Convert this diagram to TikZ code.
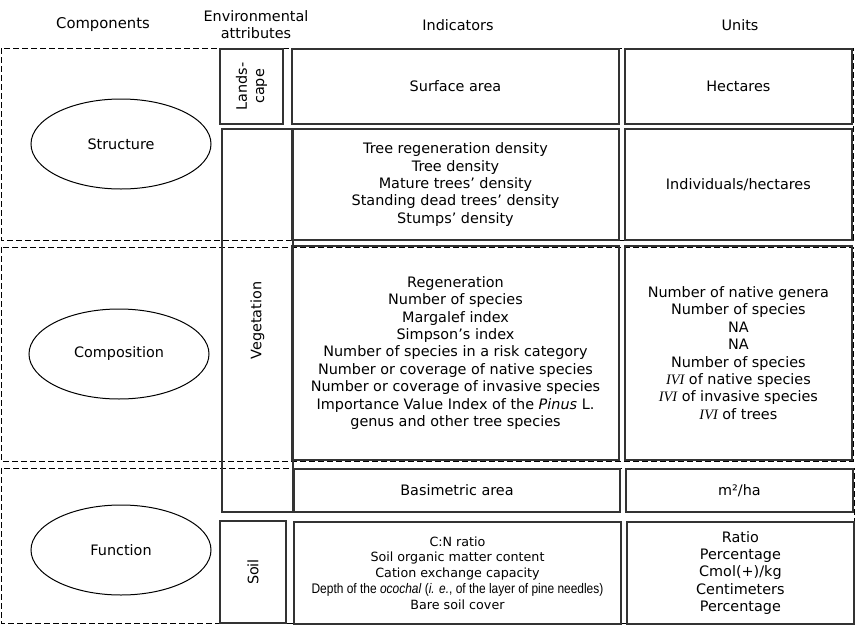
\documentclass[tikz,border=0pt]{standalone}
\usepackage{fontspec}
\setmainfont{DejaVu Sans}
\newfontfamily\narrowfont[FakeStretch=0.86]{Liberation Sans}
\newfontfamily\ivifont{Liberation Serif}
\usepackage{tikz}
\usetikzlibrary{positioning}
\usepgflibrary{shapes.geometric}
\newcommand{\ivi}{{\ivifont\itshape IVI}}

\begin{document}
\begin{tikzpicture}[x=1pt, y=-1pt,
      comp/.style ={draw, ellipse, line width=1pt, minimum width=180pt, minimum height=90pt},
      block/.style ={rectangle, draw=black!80, line width=1.4pt, align=center, inner sep=0pt},
      attr/.style ={block, rotate=90},
      band/.style ={draw, line width=0.9pt, dash pattern=on 6pt off 3pt},
      head/.style ={align=center},
      node distance=4.5pt,
      font=\fontsize{14.4}{17.4}\selectfont
    ]
    \useasboundingbox (0,0) rectangle (855,627);

    % headings
    \node [head, font=\fontsize{14.8}{17.4}\selectfont] (hcomp) at (103,25) {Components} ;
    \node [head, font=\fontsize{14.4}{17}\selectfont] (hattr) at (256,25) {Environmental\\attributes} ;
    \node [head] (hind) at (458,25) {Indicators} ;
    \node [head] (hunit) at (740,25) {Units} ;

    % dashed bands
    \draw [band] (1,48) rectangle (853,240) ;
    \draw [band] (1,247) rectangle (853,461) ;
    \draw [band] (1,468) rectangle (854,623) ;

    % components
    \node [comp] (struct) at (121,144) {Structure} ;
    \node [comp] (compo) at (119,354) {Composition} ;
    \node [comp] (func) at (121,550) {Function} ;

    % environmental attributes
    \node [attr, minimum width=75pt, minimum height=63pt] (land) at (251.5,86.5) {Lands-\\cape} ;
    \node [attr, minimum width=383pt, minimum height=71pt] (veg) at (257.5,320.5) {Vegetation} ;
    \node [attr, minimum width=102pt, minimum height=66pt] (soil) at (253,572) {Soil} ;

    % indicators
    \node [block, minimum width=327pt, minimum height=75pt] (surf) at (455.5,86.5) {Surface area} ;
    \node [block, minimum width=327pt, minimum height=111pt] (dens) at (455.5,184.5)
      {Tree regeneration density\\Tree density\\Mature trees' density\\Standing dead trees' density\\Stumps' density} ;
    \node [block, minimum width=327pt, minimum height=214pt] (spec) at (455.5,353)
      {Regeneration\\Number of species\\Margalef index\\Simpson's index\\Number of species in a risk category\\
       Number or coverage of native species\\Number or coverage of invasive species\\
       Importance Value Index of the \textit{Pinus} L.\\genus and other tree species} ;
    \node [block, minimum width=326pt, minimum height=43pt] (basi) at (457,490.5) {Basimetric area} ;
    \node [block, minimum width=327pt, minimum height=102pt, font=\fontsize{12.7}{15.8}\selectfont] (soilind) at (457.5,573)
      {C:N ratio\\Soil organic matter content\\Cation exchange capacity\\
       {\narrowfont\fontsize{13.9}{15.8}\selectfont Depth of the \textit{ocochal} (\textit{i. e.}, of the layer of pine needles)}\\Bare soil cover} ;

    % units
    \node [block, minimum width=227pt, minimum height=75pt, right=of surf] (ha) {Hectares} ;
    \node [block, minimum width=227pt, minimum height=111pt, right=of dens] (indha) {Individuals/hectares} ;
    \node [block, minimum width=227pt, minimum height=214pt, right=of spec] (specu)
      {Number of native genera\\Number of species\\NA\\NA\\Number of species\\
       \ivi{} of native species\\\ivi{} of invasive species\\\ivi{} of trees} ;
    \node [block, minimum width=227pt, minimum height=43pt, right=of basi] (m2ha) {m²/ha} ;
    \node [block, minimum width=227pt, minimum height=102pt, right=of soilind] (soilu)
      {Ratio\\Percentage\\Cmol(+)/kg\\Centimeters\\Percentage} ;
  \end{tikzpicture}
\end{document}
